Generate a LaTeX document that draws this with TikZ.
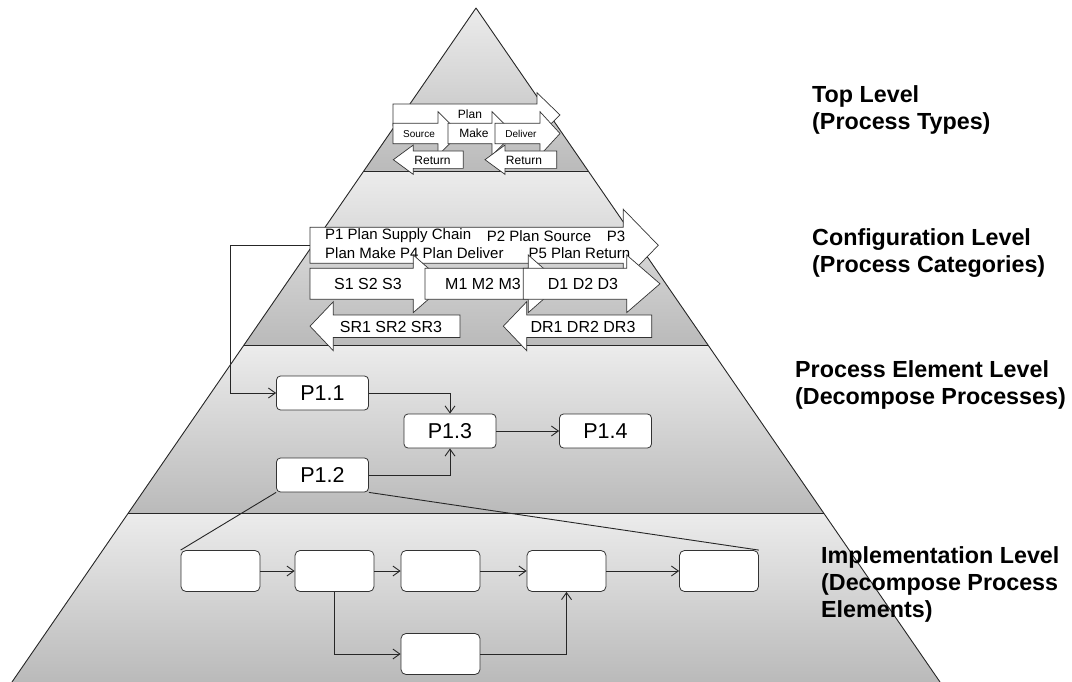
\documentclass[tikz,border=0pt]{standalone}
\usepackage{fontspec}
\setmainfont{Liberation Sans}
\usetikzlibrary{arrows.meta}

\definecolor{bandtop}{RGB}{236,236,236}
\definecolor{bandbot}{RGB}{186,186,186}

% block arrow: tail x, head base x, tip x, centre y, half body, half head
\newcommand{\blockarrow}[6]{%
  \draw[blk] (#1,#4-#5) -- (#2,#4-#5) -- (#2,#4-#6) -- (#3,#4)
    -- (#2,#4+#6) -- (#2,#4+#5) -- (#1,#4+#5) -- cycle;}

\begin{document}
\begin{tikzpicture}[x=1pt,y=-1pt,
    >={Straight Barb[length=7pt,width=10pt]},
    edge/.style={draw=black!85,line width=0.9pt},
    blk/.style={draw=black!80,line width=0.7pt,fill=white},
    band/.style={top color=bandtop,bottom color=bandbot},
    elem/.style={draw=black!80,line width=0.8pt,fill=white,rounded corners=4pt,
      minimum width=92pt,minimum height=34pt,inner sep=0pt,font=\fontsize{21.5}{24}\selectfont},
    impl/.style={draw=black!80,line width=0.8pt,fill=white,rounded corners=5pt,
      minimum width=79pt,minimum height=41pt,inner sep=0pt},
    lvl/.style={anchor=west,align=left,inner sep=0pt,font=\fontsize{23.3}{27}\selectfont\bfseries},
    tsmall/.style={inner sep=0pt,font=\fontsize{10}{12}\selectfont},
    tmid/.style={inner sep=0pt,font=\fontsize{12}{14}\selectfont},
    tcfg/.style={inner sep=0pt,anchor=west,font=\fontsize{15}{17}\selectfont},
    tbig/.style={inner sep=0pt,font=\fontsize{16}{18}\selectfont}]

      \useasboundingbox (0,0) rectangle (1072,682);

      % pyramid
      \shade[band] (476,8) -- (588.2,171) -- (363.8,171) -- cycle;
      \shade[band] (363.8,171) -- (588.2,171) -- (708,345) -- (244,345) -- cycle;
      \shade[band] (244,345) -- (708,345) -- (823.7,513) -- (128.3,513) -- cycle;
      \shade[band] (128.3,513) -- (823.7,513) -- (940,682) -- (12,682) -- cycle;
      \draw[edge] (476,8) -- (12,682);
      \draw[edge] (476,8) -- (940,682);
      \draw[edge] (363.8,171) -- (588.2,171);
      \draw[edge] (244,345) -- (708,345);
      \draw[edge] (128.3,513) -- (823.7,513);

      % top level
      \blockarrow{393}{537}{560}{115}{11}{22.3}
      \node[tmid] (tplan) at (470,114){Plan};
      \blockarrow{393}{438}{460}{133.5}{10.2}{21.8}
      \blockarrow{448}{492}{514}{133.5}{10.2}{21.8}
      \blockarrow{495}{540}{560}{133.5}{10.2}{21.8}
      \node[tsmall] (tsource) at (419,134){Source};
      \node[tmid] (tmake) at (474,133.5){Make};
      \node[tsmall] (tdeliver) at (521,134){Deliver};
      \blockarrow{463.3}{413.3}{393.3}{159.7}{8.7}{14.7}
      \blockarrow{556.7}{505}{485}{159.7}{8.7}{14.7}
      \node[tmid] (treturna) at (432.5,160.5){Return};
      \node[tmid] (treturnb) at (524,160.5){Return};

      % configuration level
      \blockarrow{310}{623.3}{658.3}{245.3}{18}{36}
      \coordinate (pchain) at (310,245.3);
      \node[tcfg] (tpa) at (325,236){P1 Plan Supply Chain};
      \node[tcfg] (tpb) at (486.7,236){P2 Plan Source};
      \node[tcfg] (tpc) at (606.7,236){P3};
      \node[tcfg] (tpd) at (325,253.3){Plan Make P4 Plan Deliver};
      \node[tcfg] (tpe) at (528.3,253.3){P5 Plan Return};
      \blockarrow{310}{413.3}{446}{283.8}{15.5}{28.8}
      \blockarrow{425}{528.3}{561}{283.8}{15.5}{28.8}
      \blockarrow{523.3}{626.7}{660}{283.8}{15.5}{28.8}
      \node[tbig] (ts) at (368,284){S1 S2 S3};
      \node[tbig] (tm) at (483,284){M1 M2 M3};
      \node[tbig] (td) at (583,284){D1 D2 D3};
      \blockarrow{460}{333.3}{310}{326.2}{11.2}{24.5}
      \blockarrow{651.7}{526.7}{503.3}{326.2}{11.2}{24.5}
      \node[tbig] (tsr) at (391,327){SR1 SR2 SR3};
      \node[tbig] (tdr) at (583,327){DR1 DR2 DR3};

      % process element level
      \node[elem] (p11) at (322.5,393){P1.1};
      \node[elem] (p12) at (322.5,475){P1.2};
      \node[elem] (p13) at (450,431){P1.3};
      \node[elem] (p14) at (605.5,431){P1.4};

      \draw[edge,->] (pchain) -- ++(-80,0) |- (p11);
      \draw[edge,->] (p11) -| (p13);
      \draw[edge,->] (p12) -| (p13);
      \draw[edge,->] (p13) -- (p14);

      % implementation level
      \node[impl] (e1) at (220.5,571){};
      \node[impl] (e2) at (334.5,571){};
      \node[impl] (e3) at (440.5,571){};
      \node[impl] (e4) at (566.5,571){};
      \node[impl] (e5) at (719,571){};
      \node[impl] (e6) at (440.5,654){};

      \draw[edge] (p12.south west) -- (e1.north west);
      \draw[edge] (p12.south east) -- (e5.north east);
      \draw[edge,->] (e1) -- (e2);
      \draw[edge,->] (e2) -- (e3);
      \draw[edge,->] (e3) -- (e4);
      \draw[edge,->] (e4) -- (e5);
      \draw[edge,->] (e2) |- (e6);
      \draw[edge,->] (e6) -| (e4);

      % level names
      \node[lvl] (ltop) at (812,110){Top Level\\(Process Types)};
      \node[lvl] (lcfg) at (812,253){Configuration Level\\(Process Categories)};
      \node[lvl] (lelem) at (795,384.5){Process Element Level\\(Decompose Processes)};
      \node[lvl] (limpl) at (821,584){Implementation Level\\(Decompose Process\\Elements)};
    \end{tikzpicture}
\end{document}
